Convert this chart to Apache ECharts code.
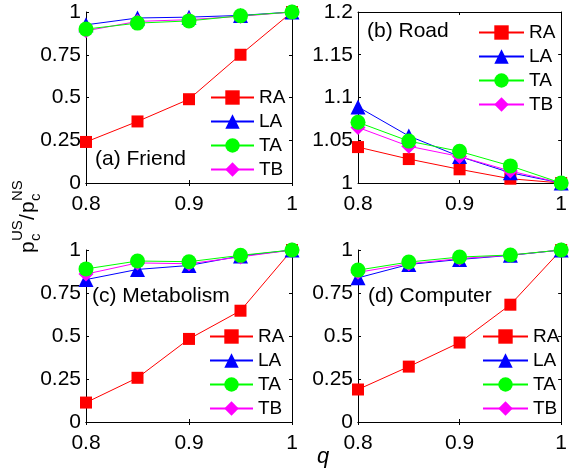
<!DOCTYPE html>
<html>
<head>
<meta charset="utf-8">
<script src="https://cdn.jsdelivr.net/npm/echarts@6/dist/echarts.min.js"></script>
<style>html,body{margin:0;padding:0;background:#fff;}#c{width:570px;height:470px;}</style>
</head>
<body>
<div id="c"></div>
<script>
const qValues = [0.8, 0.85, 0.9, 0.95, 1.0];
const seriesNames = ['RA', 'LA', 'TA', 'TB'];

const friendRA = [0.24, 0.36, 0.49, 0.75, 1.0];
const friendLA = [0.925, 0.965, 0.97, 0.98, 1.0];
const friendTA = [0.90, 0.935, 0.948, 0.978, 1.0];
const friendTB = [0.89, 0.945, 0.955, 0.975, 1.0];

const roadRA = [1.042, 1.028, 1.016, 1.005, 1.0];
const roadLA = [1.089, 1.055, 1.031, 1.012, 1.0];
const roadTA = [1.071, 1.049, 1.037, 1.020, 1.0];
const roadTB = [1.065, 1.043, 1.031, 1.014, 1.0];

const metabRA = [0.113, 0.257, 0.483, 0.647, 1.0];
const metabLA = [0.828, 0.887, 0.91, 0.965, 1.0];
const metabTA = [0.89, 0.936, 0.932, 0.969, 1.0];
const metabTB = [0.86, 0.925, 0.92, 0.96, 1.0];

const compRA = [0.189, 0.322, 0.462, 0.682, 1.0];
const compLA = [0.838, 0.916, 0.945, 0.969, 1.0];
const compTA = [0.883, 0.93, 0.959, 0.971, 1.0];
const compTB = [0.87, 0.92, 0.95, 0.97, 1.0];

const panelTitles = ['(a) Friend', '(b) Road', '(c) Metabolism', '(d) Computer'];
const yTicksUnit = [0, 0.25, 0.5, 0.75, 1];
const yTicksRoad = [1, 1.05, 1.1, 1.15, 1.2];

const FONT = "'Liberation Sans', Arial, sans-serif";
const fmt = v => String(parseFloat(Number(v).toFixed(4)));

const panels = [
  {data: {RA: friendRA, LA: friendLA, TA: friendTA, TB: friendTB}, yTicks: yTicksUnit,
   grid: {left: 86, top: 12, width: 206, height: 171}, legend: {left: 210, top: 88, w: 43},
   title: {x: 95, y: 159}},
  {data: {RA: roadRA, LA: roadLA, TA: roadTA, TB: roadTB}, yTicks: yTicksRoad,
   grid: {left: 358, top: 12, width: 207, height: 171}, legend: {left: 478, top: 23, w: 45},
   title: {x: 367, y: 31}},
  {data: {RA: metabRA, LA: metabLA, TA: metabTA, TB: metabTB}, yTicks: yTicksUnit,
   grid: {left: 86, top: 250, width: 206, height: 172}, legend: {left: 209, top: 327, w: 43},
   title: {x: 92, y: 296}},
  {data: {RA: compRA, LA: compLA, TA: compTA, TB: compTB}, yTicks: yTicksUnit,
   grid: {left: 358, top: 250, width: 207, height: 172}, legend: {left: 482, top: 327, w: 45},
   title: {x: 368, y: 296}}
];

const styleMap = {
  RA: {color: '#ff0000', symbol: 'rect', size: 12},
  LA: {color: '#0000ff', symbol: 'triangle', size: 15},
  TA: {color: '#00ff00', symbol: 'circle', size: 15},
  TB: {color: '#ff00ff', symbol: 'diamond', size: 15}
};
const drawOrder = ['RA', 'LA', 'TB', 'TA'];

const grids = [], xAxes = [], yAxes = [], series = [], legends = [], graphics = [];

panels.forEach((p, i) => {
  grids.push(Object.assign({containLabel: false}, p.grid));
  const yMin = p.yTicks[0], yMax = p.yTicks[p.yTicks.length - 1];
  const yInt = p.yTicks[1] - p.yTicks[0];
  const axLine = {show: true, lineStyle: {color: '#000', width: 1}};
  const tick = {show: true, inside: true, length: 3, lineStyle: {color: '#000'}};
  xAxes.push({type: 'value', gridIndex: i, position: 'bottom', min: qValues[0], max: qValues[qValues.length - 1],
    interval: 0.1, axisLine: axLine, axisTick: tick, splitLine: {show: false},
    axisLabel: {color: '#000', fontSize: 21, fontFamily: FONT, margin: 11, formatter: fmt}});
  xAxes.push({type: 'value', gridIndex: i, position: 'top', min: qValues[0], max: qValues[qValues.length - 1],
    interval: 0.1, axisLine: axLine, axisTick: tick, splitLine: {show: false}, axisLabel: {show: false}});
  yAxes.push({type: 'value', gridIndex: i, position: 'left', min: yMin, max: yMax, interval: yInt,
    axisLine: axLine, axisTick: tick, splitLine: {show: false},
    axisLabel: {color: '#000', fontSize: 21, fontFamily: FONT, margin: 5, formatter: fmt}});
  yAxes.push({type: 'value', gridIndex: i, position: 'right', min: yMin, max: yMax, interval: yInt,
    axisLine: axLine, axisTick: tick, splitLine: {show: false}, axisLabel: {show: false}});

  drawOrder.forEach(name => {
    const s = styleMap[name];
    series.push({
      type: 'line', name: name, xAxisIndex: 2 * i, yAxisIndex: 2 * i,
      data: qValues.map((q, k) => [q, p.data[name][k]]),
      symbol: s.symbol, symbolSize: s.size, clip: false,
      lineStyle: {color: s.color, width: 1},
      itemStyle: {color: s.color},
      emphasis: {disabled: true},
      animation: false
    });
  });

  legends.push({
    orient: 'vertical', left: p.legend.left, top: p.legend.top, padding: 0,
    itemWidth: p.legend.w, itemHeight: 18, itemGap: 5, selectedMode: false,
    data: seriesNames,
    textStyle: {color: '#000', fontSize: 19, fontFamily: FONT, padding: [0, 0, 0, 0]}
  });

  graphics.push({type: 'text', x: p.title.x, y: p.title.y,
    style: {text: panelTitles[i], font: '21px ' + FONT, fill: '#000', verticalAlign: 'middle', align: 'left'}});
});

// y-axis label p_c^US / p_c^NS (rotated)
const big = '21px ' + FONT, small = '15px ' + FONT;
graphics.push({
  type: 'group', x: 28, y: 253, rotation: Math.PI / 2,
  children: [
    {type: 'text', x: 0, y: 0, style: {text: 'p', font: big, fill: '#000', verticalAlign: 'middle'}},
    {type: 'text', x: 12, y: 8, style: {text: 'c', font: small, fill: '#000', verticalAlign: 'middle'}},
    {type: 'text', x: 12, y: -10, style: {text: 'US', font: small, fill: '#000', verticalAlign: 'middle'}},
    {type: 'text', x: 33, y: 0, style: {text: '/', font: big, fill: '#000', verticalAlign: 'middle'}},
    {type: 'text', x: 40, y: 0, style: {text: 'p', font: big, fill: '#000', verticalAlign: 'middle'}},
    {type: 'text', x: 52, y: 8, style: {text: 'c', font: small, fill: '#000', verticalAlign: 'middle'}},
    {type: 'text', x: 52, y: -10, style: {text: 'NS', font: small, fill: '#000', verticalAlign: 'middle'}}
  ]
});
graphics.push({type: 'text', x: 323, y: 457,
  style: {text: 'q', font: 'italic 22px ' + FONT, fill: '#000', verticalAlign: 'middle', align: 'center'}});

const chart = echarts.init(document.getElementById('c'), null, {renderer: 'canvas'});
chart.setOption({
  animation: false,
  backgroundColor: '#fff',
  grid: grids, xAxis: xAxes, yAxis: yAxes, series: series, legend: legends, graphic: graphics
});
</script>
</body>
</html>
